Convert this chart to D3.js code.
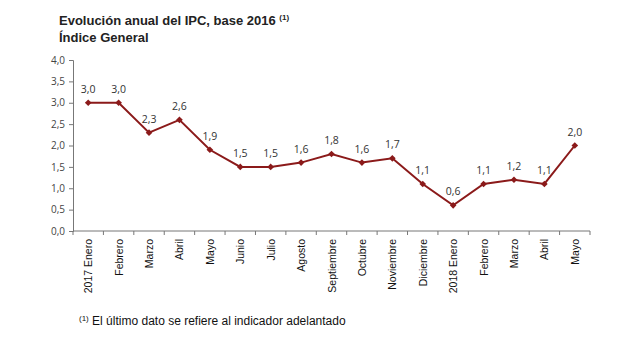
<!DOCTYPE html>
<html>
<head>
<meta charset="utf-8">
<script src="https://cdn.jsdelivr.net/npm/d3@7"></script>
<style>
  body { margin: 0; background: #fff; }
  svg text { font-family: "Liberation Sans", Arial, sans-serif; }
</style>
</head>
<body>
<div class="chart"></div>
<script>
const months = ["2017 Enero", "Febrero", "Marzo", "Abril", "Mayo", "Junio", "Julio", "Agosto",
  "Septiembre", "Octubre", "Noviembre", "Diciembre", "2018 Enero", "Febrero", "Marzo", "Abril", "Mayo"];
const ipc = [3.0, 3.0, 2.3, 2.6, 1.9, 1.5, 1.5, 1.6, 1.8, 1.6, 1.7, 1.1, 0.6, 1.1, 1.2, 1.1, 2.0];
const yTicks = [0, 0.5, 1, 1.5, 2, 2.5, 3, 3.5, 4];

const width = 620, height = 341;
const margin = {left: 73, right: 590, top: 60, bottom: 231};

const svg = d3.select(".chart").append("svg")
    .attr("width", width)
    .attr("height", height);

const data = months.map((m, i) => ({key: i, label: m, value: ipc[i]}));

const xScale = d3.scaleBand()
    .domain(data.map(d => d.key))
    .range([margin.left, margin.right]);

const yScale = d3.scaleLinear()
    .domain([0, 4])
    .range([margin.bottom, margin.top]);

const fmt = v => d3.format(".1f")(v).replace(".", ",");

// titles
const title = svg.append("text")
    .attr("x", 59).attr("y", 25)
    .attr("font-size", 13).attr("font-weight", "bold").attr("fill", "#222");
title.append("tspan").text("Evolución anual del IPC, base 2016 ");
title.append("tspan").attr("font-size", 8).attr("dy", -5).text("(1)");

svg.append("text")
    .attr("x", 59).attr("y", 42)
    .attr("font-size", 13).attr("font-weight", "bold").attr("fill", "#222")
    .text("Índice General");

// y axis
svg.append("g")
    .attr("transform", `translate(${margin.left},0)`)
    .call(d3.axisLeft(yScale).tickValues(yTicks).tickSize(4).tickPadding(4).tickFormat(fmt))
    .call(g => g.selectAll("path, line").attr("stroke", "#777"))
    .call(g => g.selectAll("text").attr("font-size", 10).attr("fill", "#444")
        .style("font-family", "'Open Sans', 'DejaVu Sans', sans-serif"));

// x axis: ticks at the band boundaries, labels rotated
const xAxis = svg.append("g")
    .attr("transform", `translate(0,${margin.bottom})`);

xAxis.append("line")
    .attr("x1", margin.left).attr("x2", margin.right)
    .attr("stroke", "#777");

xAxis.selectAll(".tick")
    .data(d3.range(months.length + 1))
    .join("line")
    .attr("class", "tick")
    .attr("x1", i => margin.left + i * xScale.step())
    .attr("x2", i => margin.left + i * xScale.step())
    .attr("y1", 0).attr("y2", 4)
    .attr("stroke", "#777");

xAxis.selectAll(".lbl")
    .data(data)
    .join("text")
    .attr("class", "lbl")
    .attr("transform", d => `translate(${xScale(d.key) + xScale.bandwidth() / 2 + 4},8) rotate(-90)`)
    .attr("text-anchor", "end")
    .attr("font-size", 10.5)
    .attr("fill", "#111")
    .text(d => d.label);

// line
const line = d3.line()
    .x(d => xScale(d.key) + xScale.bandwidth() / 2)
    .y(d => yScale(d.value));

svg.append("path")
    .datum(data)
    .attr("fill", "none")
    .attr("stroke", "#8b1a1a")
    .attr("stroke-width", 2)
    .attr("d", line);

svg.append("g")
    .attr("fill", "#8b1a1a")
    .selectAll("path")
    .data(data)
    .join("path")
    .attr("d", d3.symbol(d3.symbolDiamond2, 28))
    .attr("transform", d => `translate(${xScale(d.key) + xScale.bandwidth() / 2},${yScale(d.value)})`);

// value labels
svg.append("g")
    .selectAll("text")
    .data(data)
    .join("text")
    .attr("x", d => xScale(d.key) + xScale.bandwidth() / 2)
    .attr("y", d => yScale(d.value) - 10)
    .attr("text-anchor", "middle")
    .attr("font-size", 10.5)
    .attr("fill", "#333")
    .style("font-family", "'Open Sans', 'DejaVu Sans', sans-serif")
    .text(d => fmt(d.value));

// footnote
const note = svg.append("text")
    .attr("x", 79).attr("y", 325)
    .attr("font-size", 12).attr("fill", "#111");
note.append("tspan").attr("font-size", 8).attr("dy", -4).text("(1)");
note.append("tspan").attr("dy", 4).text(" El último dato se refiere al indicador adelantado");
</script>
</body>
</html>
